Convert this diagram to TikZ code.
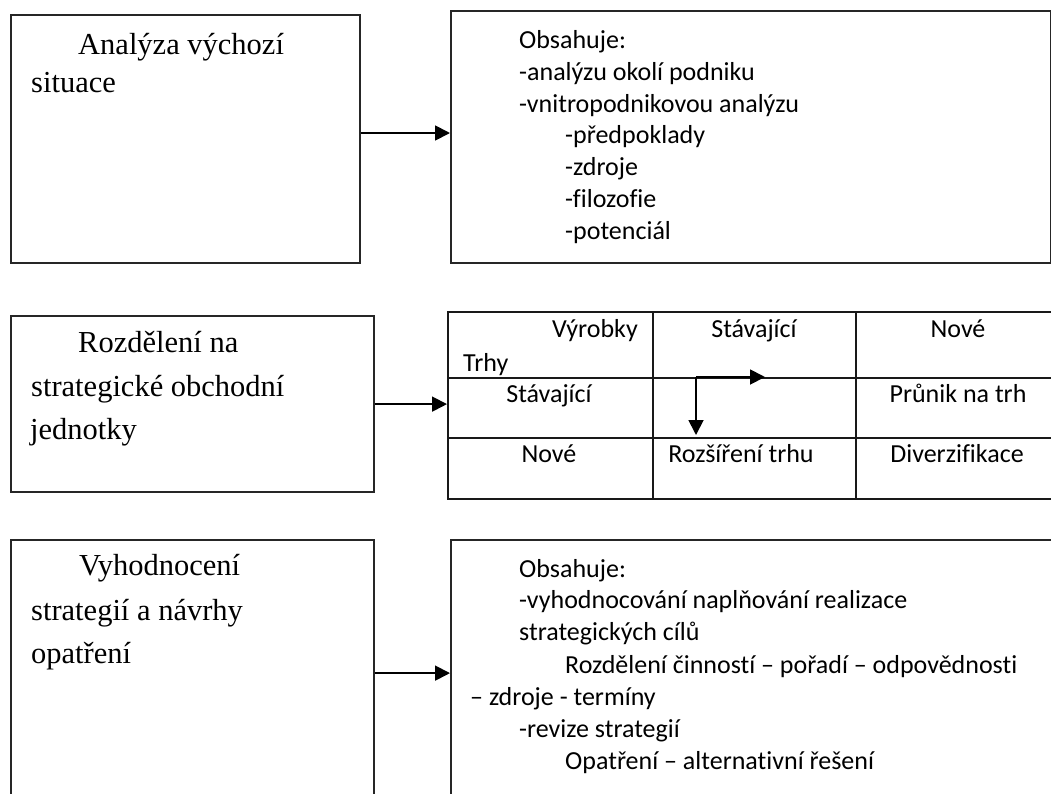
\documentclass[tikz,border=0pt]{standalone}
\usepackage{fontspec}
\setmainfont{Liberation Serif}
\newfontfamily\bodyfont[RawFeature=-liga]{Carlito}
\usetikzlibrary{arrows.meta}
\begin{document}
\begin{tikzpicture}[x=1pt,y=-1pt,
  frame/.style={draw=black!85, line width=2.2pt, inner sep=0pt, anchor=north west},
  cellbox/.style={draw=black!90, line width=2pt, inner sep=0pt, anchor=north west},
  conn/.style={draw=black, line width=1.8pt, -{Triangle[length=15pt,width=15pt]}},
  heading/.style={font=\fontsize{30.5}{38}\selectfont, anchor=base west, inner sep=0pt},
  entry/.style={font=\bodyfont\fontsize{26}{32}\selectfont, anchor=base west, inner sep=0pt},
  celltext/.style={font=\bodyfont\fontsize{26}{32}\selectfont, anchor=base, inner sep=0pt},
]
\useasboundingbox (0,0) rectangle (1051,793);
\clip (0,0) rectangle (1051,793);

% ---- row 1: situation analysis
\node[frame, minimum width=349pt, minimum height=248pt] (b1) at (10,14) {};
\node[frame, minimum width=600pt, minimum height=252pt] (b2) at (450,10) {};
\node[heading] (h1a) at (78,54) {Analýza výchozí};
\node[heading] (h1b) at (31,92) {situace};

\node[entry] (e1) at (519,48)  {Obsahuje:};
\node[entry] (e2) at (519,80)  {-analýzu okolí podniku};
\node[entry] (e3) at (519,112) {-vnitropodnikovou analýzu};
\node[entry] (e4) at (565,143) {-předpoklady};
\node[entry] (e5) at (565,175) {-zdroje};
\node[entry] (e6) at (565,207) {-filozofie};
\node[entry] (e7) at (565,239) {-potenciál};

\draw[conn] (b1.east |- 0,133) -- (b2.west |- 0,133);

% ---- row 2: strategic business units and the product/market grid
\node[frame, minimum width=363pt, minimum height=176pt] (b3) at (10,315) {};
\node[heading] (h3a) at (78,352) {Rozdělení na};
\node[heading] (h3b) at (31,396) {strategické obchodní};
\node[heading] (h3c) at (30,439) {jednotky};

\node[cellbox, minimum width=205pt, minimum height=66pt] (c00) at (447,311) {};
\node[cellbox, minimum width=203pt, minimum height=66pt] (c01) at (652,311) {};
\node[cellbox, minimum width=205pt, minimum height=66pt] (c02) at (855,311) {};
\node[cellbox, minimum width=205pt, minimum height=60pt] (c10) at (447,377) {};
\node[cellbox, minimum width=203pt, minimum height=60pt] (c11) at (652,377) {};
\node[cellbox, minimum width=205pt, minimum height=60pt] (c12) at (855,377) {};
\node[cellbox, minimum width=205pt, minimum height=61pt] (c20) at (447,437) {};
\node[cellbox, minimum width=203pt, minimum height=61pt] (c21) at (652,437) {};
\node[cellbox, minimum width=205pt, minimum height=61pt] (c22) at (855,437) {};

\node[celltext, anchor=base east] (t00a) at (638,337) {Výrobky};
\node[entry] (t00b) at (463,371) {Trhy};
\node[celltext] (t01) at (754,337) {Stávající};
\node[celltext] (t02) at (958,337) {Nové};
\node[celltext] (t10) at (549,402) {Stávající};
\node[celltext] (t12) at (958,402) {Průnik na trh};
\node[celltext] (t20) at (549,462) {Nové};
\node[celltext] (t21) at (741,462) {Rozšíření trhu};
\node[celltext] (t22) at (957,462) {Diverzifikace};

\coordinate (split) at ([xshift=44pt]c11.north west);
\coordinate (hend) at ([xshift=69pt]split);
\draw[conn, shorten >=4pt] (split) -- (split |- c11.south);
\draw[conn] (split) -- (hend);

\draw[conn] (b3.east) -- (b3.east -| c00.west);

% ---- row 3: evaluation of strategies
\node[frame, minimum width=363pt, minimum height=266pt] (b5) at (10,539) {};
\node[frame, minimum width=620pt, minimum height=266pt] (b6) at (450,539) {};
\node[heading] (h5a) at (79,575) {Vyhodnocení};
\node[heading] (h5b) at (31,620) {strategií a návrhy};
\node[heading] (h5c) at (31,663) {opatření};

\node[entry] (f1) at (519,577) {Obsahuje:};
\node[entry] (f2) at (519,608) {-vyhodnocování naplňování realizace};
\node[entry] (f3) at (519,640) {strategických cílů};
\node[entry] (f4) at (565,673) {Rozdělení činností – pořadí – odpovědnosti};
\node[entry] (f5) at (470,705) {– zdroje - termíny};
\node[entry] (f6) at (519,737) {-revize strategií};
\node[entry] (f7) at (565,769) {Opatření – alternativní řešení};

\draw[conn] (b5.east) -- (b5.east -| b6.west);
\end{tikzpicture}
\end{document}
